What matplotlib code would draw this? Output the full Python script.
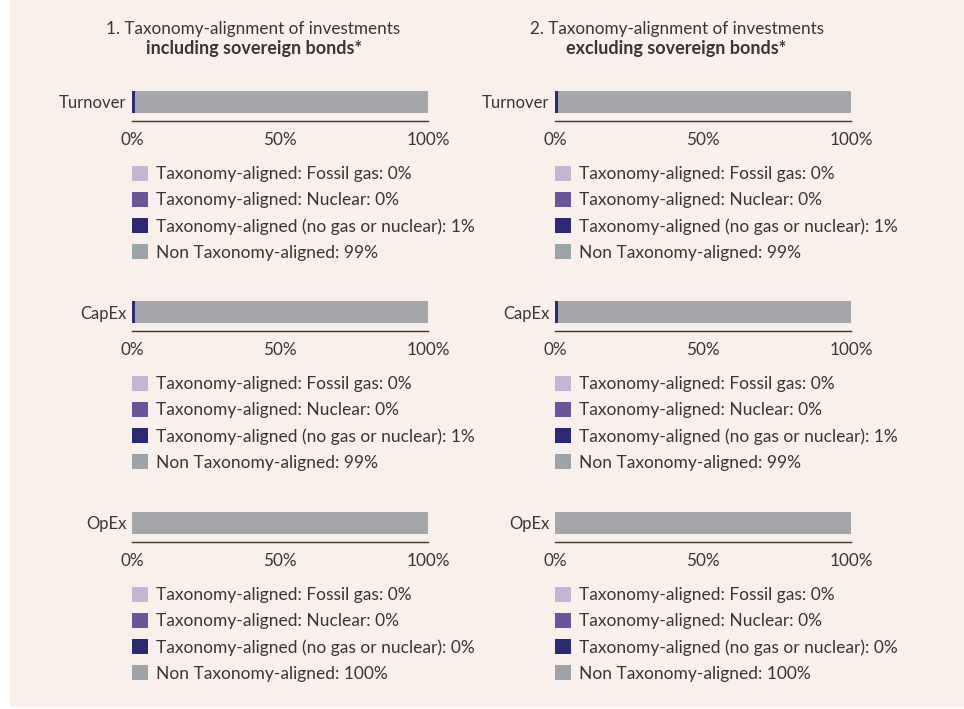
import matplotlib
matplotlib.use('Agg')
import matplotlib.pyplot as plt
from matplotlib.patches import Patch, Rectangle

plt.rcParams['font.family'] = ['Lato', 'DejaVu Sans']

# data
metrics = ['Turnover', 'CapEx', 'OpEx']
segments = ['Taxonomy-aligned: Fossil gas', 'Taxonomy-aligned: Nuclear',
            'Taxonomy-aligned (no gas or nuclear)', 'Non Taxonomy-aligned']
incl_fossil = [0, 0, 0]
incl_nuclear = [0, 0, 0]
incl_aligned = [1, 1, 0]
incl_non = [99, 99, 100]
excl_fossil = [0, 0, 0]
excl_nuclear = [0, 0, 0]
excl_aligned = [1, 1, 0]
excl_non = [99, 99, 100]
titles = ['1. Taxonomy-alignment of investments', '2. Taxonomy-alignment of investments']
subtitles = ['including sovereign bonds*', 'excluding sovereign bonds*']
ticks = [0, 50, 100]
tick_labels = ['0%', '50%', '100%']

bar_colors = ['#c5b4d2', '#6a5499', '#2b2a72', '#a5a6aa']
legend_colors = ['#c5b4d2', '#6a5499', '#2b2a72', '#9ba4a9']
txt = '#3b3434'
bg = '#faf0eb'

W, H = 964, 709
fig = plt.figure(figsize=(W / 100, H / 100), dpi=100, facecolor='white')
fig.patches.append(Rectangle((10 / W, 2 / H), 1 - 10 / W, 1, transform=fig.transFigure,
                             facecolor=bg, edgecolor='none', zorder=-10))

def px(x, y):
    return x / W, 1 - y / H

panels = [(incl_fossil, incl_nuclear, incl_aligned, incl_non),
          (excl_fossil, excl_nuclear, excl_aligned, excl_non)]
lefts = [132, 555]
tops = [91, 301, 512]

for p, data in enumerate(panels):
    x0 = lefts[p]
    cx = x0 + 121.5
    fig.text(*px(cx, 29), titles[p], ha='center', va='center', fontsize=12.3, color=txt)
    fig.text(*px(cx, 48.5), subtitles[p], ha='center', va='center', fontsize=13,
             color=txt, fontweight='bold')
    for r, metric in enumerate(metrics):
        y0 = tops[r]
        ax = fig.add_axes([x0 / W, 1 - (y0 + 22) / H, 296 / W, 22 / H])
        ax.set_facecolor('none')
        left = 0
        for s in range(4):
            v = data[s][r]
            ax.barh([metric], [v], left=left, height=1.0, color=bar_colors[s])
            left += v
        ax.set_xlim(0, 100)
        ax.set_ylim(-0.5, 0.5)
        for sp in ['top', 'right', 'left']:
            ax.spines[sp].set_visible(False)
        ax.spines['bottom'].set_position(('outward', 6))
        ax.spines['bottom'].set_color(txt)
        ax.spines['bottom'].set_linewidth(1.0)
        ax.set_xticks(ticks)
        ax.set_xticklabels(tick_labels)
        ax.tick_params(axis='x', length=0, pad=7.5, labelsize=12.3, labelcolor=txt)
        ax.tick_params(axis='y', length=0, pad=4, labelsize=12, labelcolor=txt)
        handles = [Patch(facecolor=legend_colors[s], edgecolor='none') for s in range(4)]
        labels = [f'{segments[s]}: {data[s][r]}%' for s in range(4)]
        fig.legend(handles, labels, loc='upper left', bbox_to_anchor=px(x0, y0 + 75),
                   frameon=False, fontsize=12.5, labelcolor=txt,
                   handlelength=0.92, handleheight=0.92, handletextpad=0.45,
                   labelspacing=0.56, borderpad=0, borderaxespad=0)

fig.savefig('out.png', dpi=100, facecolor='white')
